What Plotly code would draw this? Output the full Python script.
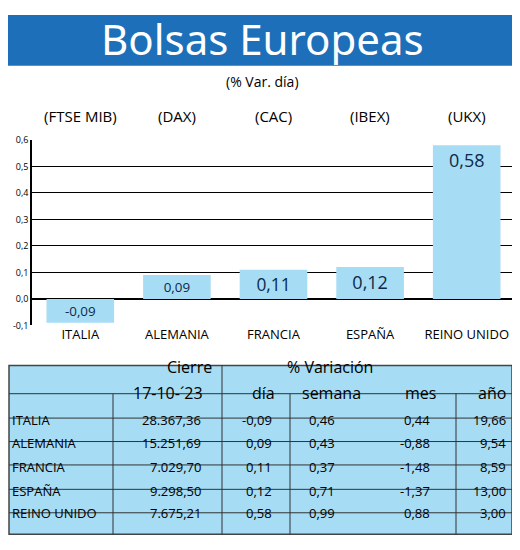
import plotly.graph_objects as go

paises = ["ITALIA", "ALEMANIA", "FRANCIA", "ESPAÑA", "REINO UNIDO"]
indices = ["(FTSE MIB)", "(DAX)", "(CAC)", "(IBEX)", "(UKX)"]
var_dia = [-0.09, 0.09, 0.11, 0.12, 0.58]
cierre = ["28.367,36", "15.251,69", "7.029,70", "9.298,50", "7.675,21"]
dia = ["-0,09", "0,09", "0,11", "0,12", "0,58"]
semana = ["0,46", "0,43", "0,37", "0,71", "0,99"]
mes = ["0,44", "-0,88", "-1,48", "-1,37", "0,88"]
anio = ["19,66", "9,54", "8,59", "13,00", "3,00"]
yticks = [-0.1, 0.0, 0.1, 0.2, 0.3, 0.4, 0.5, 0.6]

W, H = 512, 542
OFF = 8
FONT = "Open Sans"
def py(p): return 1 - (p - OFF) / H
def px(p): return (p - OFF) / W

fig = go.Figure(go.Bar(
    x=paises, y=var_dia, width=0.7, marker=dict(color="#a6dcf4", line=dict(width=0)),
    text=[f"{v:.2f}".replace(".", ",") for v in var_dia], textposition="inside",
    insidetextanchor="end", textfont=dict(size=18, color="#0d2a4a", family=FONT),
    cliponaxis=False))

shapes = [dict(type="rect", xref="paper", yref="paper", x0=0, x1=1, y0=py(60), y1=1,
               fillcolor="#1c6fb8", line=dict(width=0), layer="below")]
ann = [dict(text="Bolsas Europeas", xref="paper", yref="paper", x=px(262), y=py(32), showarrow=False,
            font=dict(size=42, color="white", family="Noto Sans"), yanchor="middle"),
       dict(text="(% Var. día)", xref="paper", yref="paper", x=px(262), y=py(76), showarrow=False,
            font=dict(size=14, color="black", family=FONT), yanchor="middle")]
for p, idx in zip(paises, indices):
    ann.append(dict(text=idx, x=p, xref="x", yref="paper", y=py(111), showarrow=False,
                    font=dict(size=15, color="black", family=FONT), yanchor="middle"))

rows = [421, 445, 469, 494, 518, 540]
L = 9
shapes.append(dict(type="rect", xref="paper", yref="paper", x0=px(L), x1=px(512), y0=py(540), y1=py(367),
                   fillcolor="#a6dcf4", line=dict(color="#444", width=1.5), layer="below"))
for yl in [396, 421, 445, 469, 494, 518]:
    shapes.append(dict(type="line", xref="paper", yref="paper", x0=px(L), x1=px(512), y0=py(yl), y1=py(yl),
                       line=dict(color="#333", width=1)))
shapes.append(dict(type="line", xref="paper", yref="paper", x0=px(222), x1=px(222), y0=py(540), y1=py(367),
                   line=dict(color="#333", width=1)))
for xl in [113, 290, 456]:
    shapes.append(dict(type="line", xref="paper", yref="paper", x0=px(xl), x1=px(xl), y0=py(540), y1=py(396),
                       line=dict(color="#333", width=1)))
tf = dict(size=13, color="black", family=FONT)
ann.append(dict(text="Cierre", xref="paper", yref="paper", x=px(165), y=py(382), showarrow=False, font=dict(size=16, color="black", family=FONT)))
ann.append(dict(text="% Variación", xref="paper", yref="paper", x=px(375), y=py(382), showarrow=False, font=dict(size=16, color="black", family=FONT)))
heads = ["17-10-´23", "día", "semana", "mes", "año"]
head_x = [205, 277, 363, 438, 508]
for h, hx in zip(heads, head_x):
    ann.append(dict(text=h, xref="paper", yref="paper", x=px(hx), y=py(409), xanchor="right", showarrow=False,
                    font=dict(size=16, color="black", family=FONT)))
cols = [cierre, dia, semana, mes, anio]
val_x = [203, 274, 337, 432, 508]
for i, p in enumerate(paises):
    yc = py((rows[i] + rows[i + 1]) / 2 + 1)
    ann.append(dict(text=p, xref="paper", yref="paper", x=px(L + 1), y=yc, xanchor="left", showarrow=False, font=tf))
    for c, hx in zip(cols, val_x):
        ann.append(dict(text=c[i], xref="paper", yref="paper", x=px(hx), y=yc, xanchor="right", showarrow=False, font=tf))

fig.update_layout(
    width=W, height=H, margin=dict(l=0, r=0, t=0, b=0), paper_bgcolor="white", plot_bgcolor="white",
    showlegend=False, shapes=shapes, annotations=ann,
    xaxis=dict(domain=[px(32), px(515)], showline=False, ticks="", tickfont=dict(size=13, color="black", family=FONT)),
    yaxis=dict(domain=[py(326), py(136)], range=[-0.1, 0.6], tickvals=yticks,
               ticktext=[f"{v:.1f}".replace(".", ",") for v in yticks],
               showgrid=True, gridcolor="black", gridwidth=1.3, showline=True, linecolor="black", linewidth=1.5,
               zeroline=True, zerolinecolor="black", zerolinewidth=1.5,
               tickfont=dict(size=9, color="black", family=FONT)),
)
fig.write_html("out.html")
